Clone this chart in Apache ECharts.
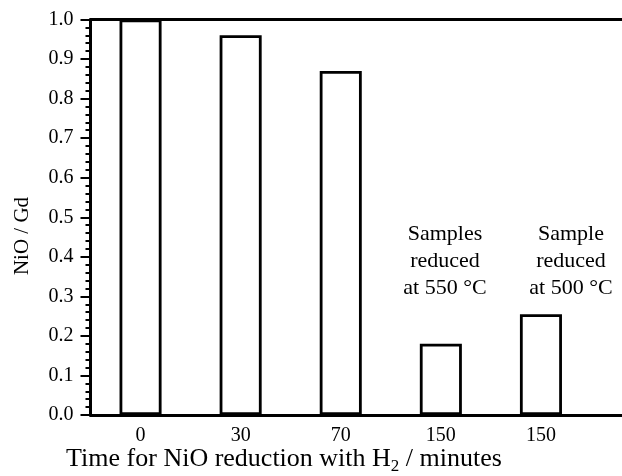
<!DOCTYPE html>
<html>
<head>
<meta charset="utf-8">
<script src="https://cdn.jsdelivr.net/npm/echarts@6/dist/echarts.min.js"></script>
<style>
html,body{margin:0;padding:0;background:#fff;overflow:hidden;width:622px;height:476px;}
#c{width:700px;height:476px;}
</style>
</head>
<body>
<div id="c"></div>
<script>
// 6th slot is the empty space the plot frame continues into (cropped at the right)
const categories = ['0', '30', '70', '150', '150', ''];
const values = [1.0, 0.96, 0.87, 0.18, 0.255, null];
const yTicks = [0, 0.1, 0.2, 0.3, 0.4, 0.5, 0.6, 0.7, 0.8, 0.9, 1.0];
const noteLines = [
  ['Samples', 'reduced', 'at 550 °C'],
  ['Sample', 'reduced', 'at 500 °C']
];
const notePosX = [445, 571];

const FONT = '"Liberation Serif", "Times New Roman", serif';
const chart = echarts.init(document.getElementById('c'), null, { renderer: 'canvas' });

const graphics = [];
noteLines.forEach((lines, i) => {
  graphics.push({
    type: 'text', x: notePosX[i], y: 221,
    style: {
      text: lines.join('\n'), fill: '#000', font: '22px ' + FONT,
      align: 'center', verticalAlign: 'top', lineHeight: 27
    }
  });
});
graphics.push({
  type: 'text', x: 22, y: 236, rotation: Math.PI / 2,
  style: { text: 'NiO / Gd', fill: '#000', font: '21px ' + FONT, align: 'center', verticalAlign: 'middle' }
});
graphics.push({
  type: 'text', x: 284, y: 459,
  style: {
    text: '{a|Time for NiO reduction with H}{s|2}{a| / minutes}',
    align: 'center', verticalAlign: 'middle', fill: '#000',
    rich: {
      a: { fontFamily: FONT, fontSize: 26, lineHeight: 32, verticalAlign: 'middle', fill: '#000' },
      s: { fontFamily: FONT, fontSize: 17, lineHeight: 19, verticalAlign: 'bottom', fill: '#000' }
    }
  }
});

chart.setOption({
  animation: false,
  backgroundColor: '#fff',
  grid: { left: 90.5, top: 19.5, right: 8.9, bottom: 61, containLabel: false },
  xAxis: [{
    type: 'category', data: categories, position: 'bottom',
    axisLine: { lineStyle: { color: '#000', width: 3 } },
    axisTick: { show: false },
    axisLabel: { color: '#000', fontFamily: FONT, fontSize: 20, margin: 11 }
  }, {
    type: 'category', data: categories, position: 'top',
    axisLine: { lineStyle: { color: '#000', width: 3 } },
    axisTick: { show: false }, axisLabel: { show: false }
  }],
  yAxis: {
    type: 'value', min: 0, max: 1, interval: 0.1,
    axisLine: { show: true, lineStyle: { color: '#000', width: 3 } },
    axisTick: { show: true, length: 10, lineStyle: { color: '#000', width: 2 } },
    minorTick: { show: true, splitNumber: 5, length: 5, lineStyle: { color: '#000', width: 2 } },
    splitLine: { show: false },
    axisLabel: {
      color: '#000', fontFamily: FONT, fontSize: 20, margin: 17,
      formatter: v => yTicks.includes(Math.round(v * 10) / 10) ? v.toFixed(1) : ''
    }
  },
  series: [{
    type: 'bar', data: values, barWidth: '42%',
    itemStyle: { color: '#fff', borderColor: '#000', borderWidth: 2.8 }
  }],
  graphic: graphics
});
</script>
</body>
</html>
